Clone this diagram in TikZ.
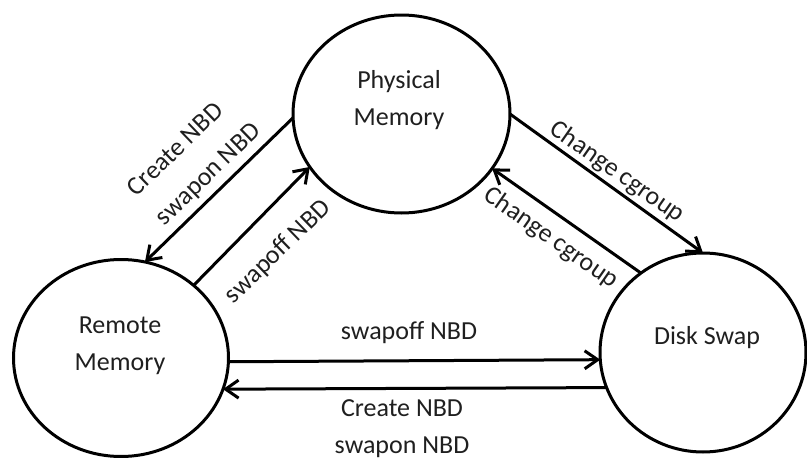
\documentclass[tikz,border=0pt]{standalone}
\usepackage{fontspec}
\setmainfont{Carlito}
\usetikzlibrary{arrows.meta,shapes.geometric}
\begin{document}
\begin{tikzpicture}[x=1pt,y=-1pt,
  state/.style={ellipse,draw,line width=3pt,inner sep=0pt,outer sep=0pt},
  stxt/.style={font=\fontsize{26}{37}\selectfont,align=center,text=black!88,inner sep=0pt},
  lbl/.style={font=\fontsize{26}{30}\selectfont,text=black!88,inner sep=0pt},
  conn/.style={line width=3pt,-{Straight Barb[length=13pt,width=18pt]}}]
\useasboundingbox (0,0) rectangle (807,458);
\node[state,minimum width=217pt,minimum height=198pt] (pm) at (401.5,114) {};
\node[state,minimum width=215pt,minimum height=197pt] (rm) at (121,358) {};
\node[state,minimum width=206pt,minimum height=199pt] (ds) at (703,352.5) {};
\node[stxt] (pmt) at (399,100) {Physical\\Memory};
\node[stxt] (rmt) at (120,346) {Remote\\Memory};
\node[stxt] (dst) at (707,338) {Disk Swap};
% left diagonal pair
\draw[conn] (pm.182) -- (rm.76.9);
\draw[conn] (rm.45) -- (pm.210.6);
% right diagonal pair
\draw[conn] (pm.0) -- (ds.90);
\draw[conn] (ds.128) -- (pm.329.5);
% horizontal pair
\draw[conn] (rm.358.9) -- (ds.184.1);
\draw[conn] (ds.200.3) -- (rm.343.7);
% labels
\node[lbl,rotate=44] (l1) at (175,149) {Create NBD};
\node[lbl,rotate=44] (l2) at (209,175) {swapon NBD};
\node[lbl,rotate=44] (l3) at (278,252) {swapoff NBD};
\node[lbl,rotate=-35] (l4) at (617,172) {Change cgroup};
\node[lbl,rotate=-35] (l5) at (551,238) {Change cgroup};
\node[lbl] (l6) at (409,333) {swapoff NBD};
\node[lbl] (l7) at (402,408) {Create NBD};
\node[lbl] (l8) at (402,447) {swapon NBD};
\end{tikzpicture}
\end{document}
